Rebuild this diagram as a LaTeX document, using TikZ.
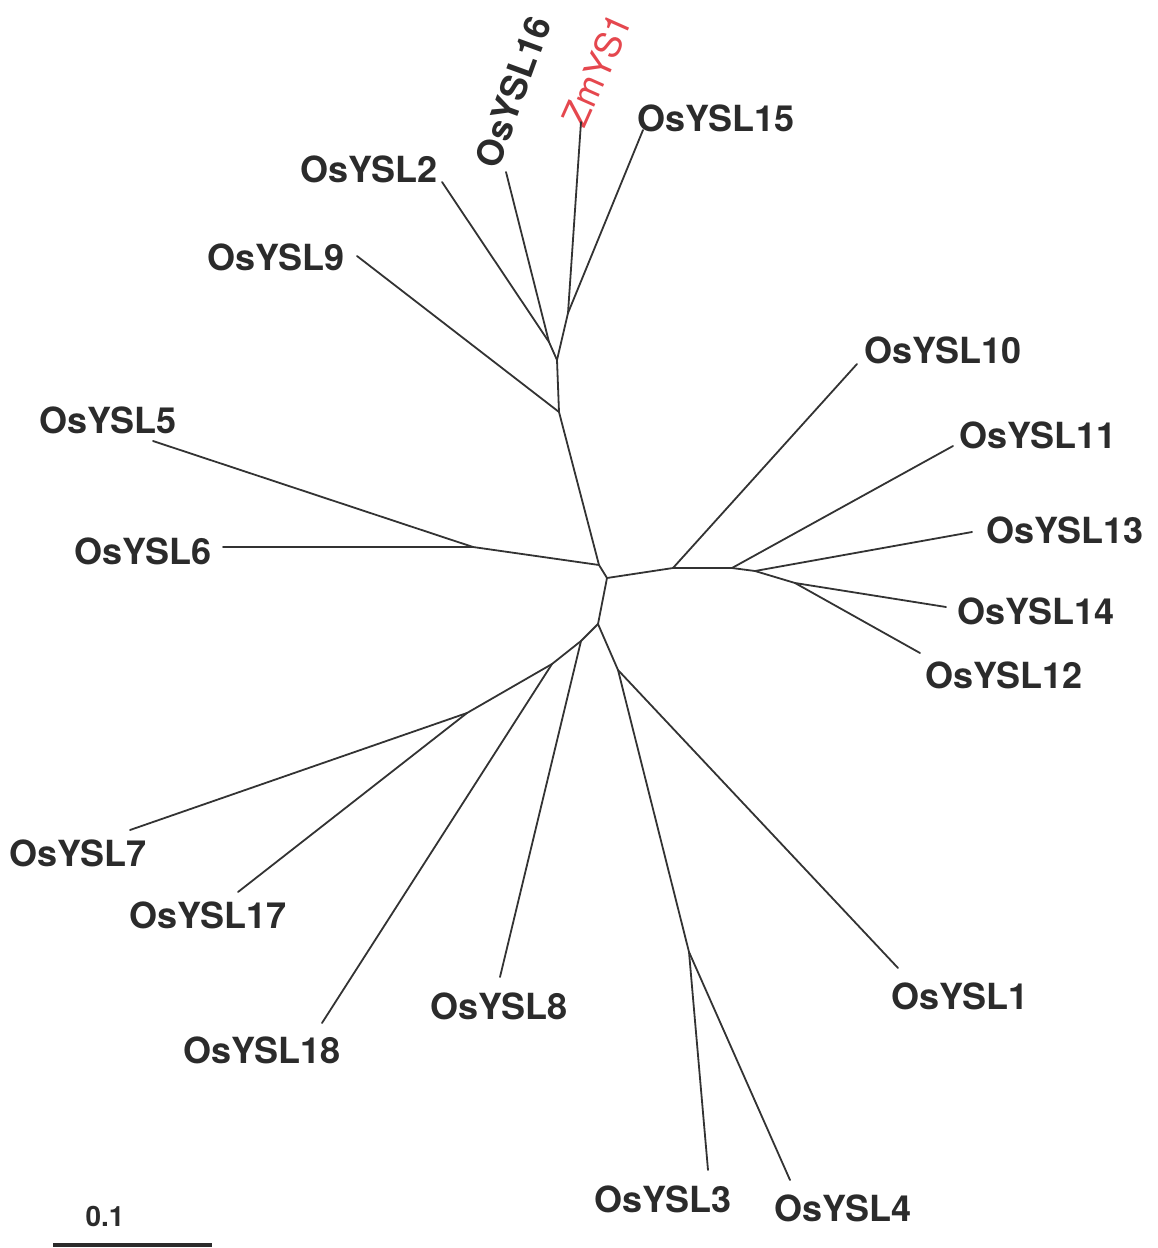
\documentclass[tikz,border=0pt]{standalone}
\usepackage{fontspec}
\setmainfont{TeX Gyre Heros}
\definecolor{linegray}{HTML}{333333}
\definecolor{labelgray}{HTML}{2B2B2B}
\definecolor{zmred}{HTML}{E5474E}
\begin{document}
\begin{tikzpicture}[x=0.5pt,y=-0.5pt,
  branch/.style={draw=linegray, line width=0.9pt, line cap=round, line join=round},
  leaf/.style={font=\fontsize{18}{20}\selectfont\bfseries, text=labelgray, inner sep=0pt},
  maize/.style={font=\fontsize{18}{20}\selectfont, text=zmred, inner sep=0pt},
  scalelabel/.style={font=\fontsize{14}{16}\selectfont\bfseries, text=labelgray, inner sep=0pt}]
\useasboundingbox (0,0) rectangle (1157,1248);

% internal nodes of the unrooted tree
\coordinate (C)   at (607,578);
\coordinate (A)   at (599,565);
\coordinate (T)   at (559,412);
\coordinate (U)   at (557,360);
\coordinate (V)   at (549,342);
\coordinate (W)   at (568,313);
\coordinate (N56) at (473,547);
\coordinate (R1)  at (673,568);
\coordinate (R2)  at (732,568);
\coordinate (R3)  at (755,571);
\coordinate (R4)  at (795,583);
\coordinate (D)   at (598,624);
\coordinate (L1)  at (581,641);
\coordinate (L2)  at (552,664);
\coordinate (L3)  at (467,713);
\coordinate (E)   at (618,670);
\coordinate (F)   at (689,952);

% branch tips
\coordinate (t2)  at (442,182);
\coordinate (t16) at (506,172);
\coordinate (tZm) at (581,122);
\coordinate (t15) at (643,130);
\coordinate (t9)  at (357,256);
\coordinate (t5)  at (153,441);
\coordinate (t6)  at (223,547);
\coordinate (t10) at (857,364);
\coordinate (t11) at (953,446);
\coordinate (t13) at (972,532);
\coordinate (t14) at (946,607);
\coordinate (t12) at (920,653);
\coordinate (t7)  at (130,830);
\coordinate (t17) at (238,892);
\coordinate (t18) at (322,1023);
\coordinate (t8)  at (500,977);
\coordinate (t1)  at (898,968);
\coordinate (t3)  at (708,1170);
\coordinate (t4)  at (790,1180);

% labels
\node[leaf] (l2)  at (369,169)  {OsYSL2};
\node[leaf, rotate=70] (l16) at (513,92) {OsYSL16};
\node[maize, rotate=66] (lZm) at (597,70) {ZmYS1};
\node[leaf] (l15) at (716,118)  {OsYSL15};
\node[leaf] (l9)  at (276,257)  {OsYSL9};
\node[leaf] (l5)  at (108,420)  {OsYSL5};
\node[leaf] (l6)  at (143,551)  {OsYSL6};
\node[leaf] (l10) at (943,350)  {OsYSL10};
\node[leaf] (l11) at (1038,435) {OsYSL11};
\node[leaf] (l13) at (1065,530) {OsYSL13};
\node[leaf] (l14) at (1036,611) {OsYSL14};
\node[leaf] (l12) at (1004,675) {OsYSL12};
\node[leaf] (l7)  at (78,853)   {OsYSL7};
\node[leaf] (l17) at (208,915)  {OsYSL17};
\node[leaf] (l18) at (262,1050) {OsYSL18};
\node[leaf] (l8)  at (499,1006) {OsYSL8};
\node[leaf] (l1)  at (960,996)  {OsYSL1};
\node[leaf] (l3)  at (663,1199) {OsYSL3};
\node[leaf] (l4)  at (843,1208) {OsYSL4};

% branches
\path[branch] (C) -- (A);
\path[branch] (A) -- (T);
\path[branch] (A) -- (N56);
\path[branch] (N56) -- (t5);
\path[branch] (N56) -- (t6);
\path[branch] (T) -- (t9);
\path[branch] (T) -- (U);
\path[branch] (U) -- (V);
\path[branch] (U) -- (W);
\path[branch] (V) -- (t2);
\path[branch] (V) -- (t16);
\path[branch] (W) -- (tZm);
\path[branch] (W) -- (t15);
\path[branch] (C) -- (R1) -- (R2) -- (R3) -- (R4);
\path[branch] (R1) -- (t10);
\path[branch] (R2) -- (t11);
\path[branch] (R3) -- (t13);
\path[branch] (R4) -- (t14);
\path[branch] (R4) -- (t12);
\path[branch] (C) -- (D);
\path[branch] (D) -- (L1) -- (L2) -- (L3);
\path[branch] (L3) -- (t7);
\path[branch] (L3) -- (t17);
\path[branch] (L2) -- (t18);
\path[branch] (L1) -- (t8);
\path[branch] (D) -- (E);
\path[branch] (E) -- (t1);
\path[branch] (E) -- (F);
\path[branch] (F) -- (t3);
\path[branch] (F) -- (t4);

% scale bar
\coordinate (s0) at (53,1245);
\coordinate (s1) at (212,1245);
\path[draw=labelgray, line width=1.6pt] (s0) -- (s1);
\node[scalelabel] (sl) at (105,1216) {0.1};
\end{tikzpicture}
\end{document}
